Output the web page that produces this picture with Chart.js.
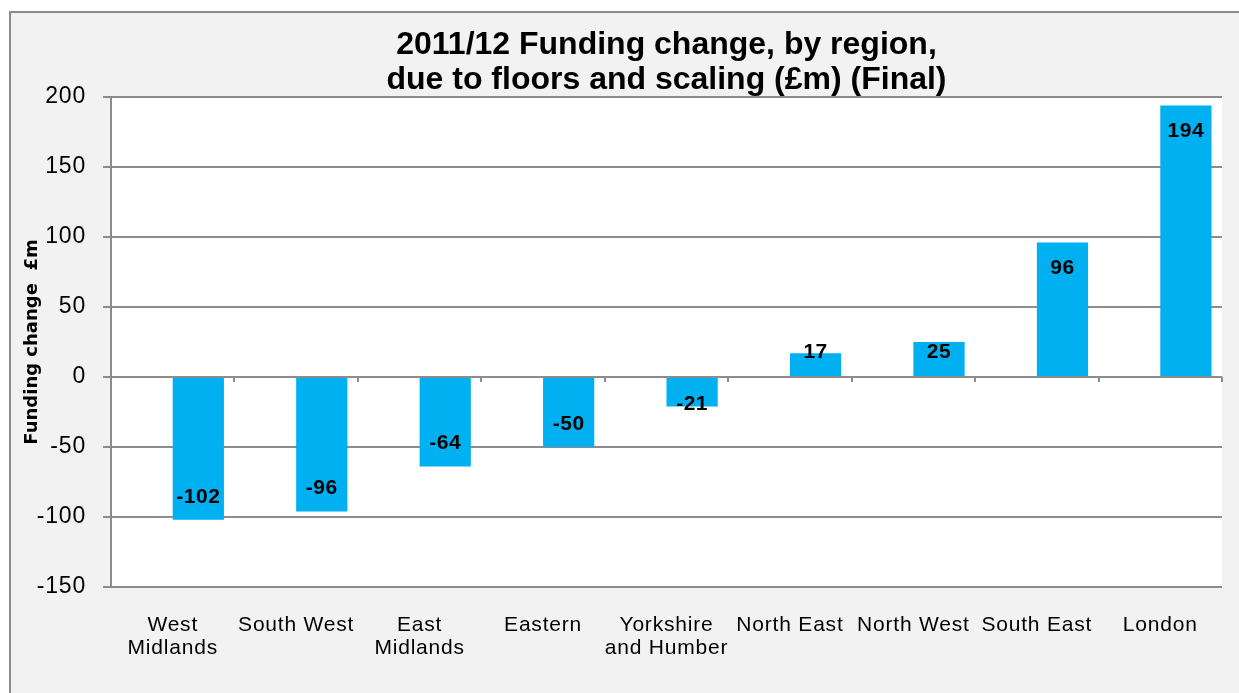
<!DOCTYPE html>
<html>
<head>
<meta charset="utf-8">
<script src="https://cdn.jsdelivr.net/npm/chart.js@4.4.1/dist/chart.umd.min.js"></script>
<style>
  html, body { margin: 0; padding: 0; background: #ffffff; overflow: hidden; }
  #frame {
    position: absolute; left: 9px; top: 11px; width: 1300px; height: 800px;
    background: #f2f2f2; border: 2px solid #8c8c8c;
  }
  #wrap { position: absolute; left: 0; top: 0; width: 1239px; height: 693px; }
</style>
</head>
<body>
<div id="frame"></div>
<div id="wrap"><canvas id="fundingChart"></canvas></div>
<script>
const regions = [['West', 'Midlands'], 'South West', ['East', 'Midlands'], 'Eastern',
    ['Yorkshire', 'and Humber'], 'North East', 'North West', 'South East', 'London'];
const fundingChange = [-102, -96, -64, -50, -21, 17, 25, 96, 194];
const titleLines = ['2011/12 Funding change, by region,', 'due to floors and scaling (£m) (Final)'];
const yTitle = 'Funding change  £m';
const yTicks = [-150, -100, -50, 0, 50, 100, 150, 200];

const FONT = "'Liberation Sans', Arial, sans-serif";
const GRID = '#8c8c8c';

// white plot area, titles drawn by hand
const plotBackground = {
    id: 'plotBackground',
    beforeDraw(chart) {
        const { ctx, chartArea: a } = chart;
        ctx.fillStyle = '#ffffff';
        ctx.fillRect(a.left, a.top, a.right - a.left, a.bottom - a.top);
        ctx.letterSpacing = '0.8px'; // Excel axis text runs a little wide
    },
    afterDraw(chart) {
        const { ctx, chartArea: a } = chart;
        ctx.save();
        ctx.fillStyle = '#000000';
        ctx.font = 'bold 32px ' + FONT;
        ctx.letterSpacing = '0px';
        ctx.textAlign = 'center';
        ctx.textBaseline = 'alphabetic';
        const cx = (a.left + a.right) / 2;
        ctx.fillText(titleLines[0], cx, 54);
        ctx.fillText(titleLines[1], cx, 89);

        ctx.font = "bold 18px 'DejaVu Sans', Verdana, sans-serif";
        ctx.translate(37, (a.top + a.bottom) / 2);
        ctx.rotate(-Math.PI / 2);
        ctx.fillText(yTitle, 0, 0);
        ctx.restore();
    }
};

// labels sit inside the bar end, pushed off the zero line for short bars
const barLabels = {
    id: 'barLabels',
    afterDatasetsDraw(chart) {
        const { ctx } = chart;
        const meta = chart.getDatasetMeta(1);
        ctx.save();
        ctx.fillStyle = '#000000';
        ctx.font = 'bold 21px ' + FONT;
        ctx.letterSpacing = '0.5px';
        ctx.textAlign = 'center';
        ctx.textBaseline = 'middle';
        meta.data.forEach((bar, i) => {
            const v = fundingChange[i];
            const len = Math.abs(bar.base - bar.y);
            const y = v >= 0 ? bar.base - Math.max(len - 26, 24)
                             : bar.base + Math.max(len - 23, 26);
            ctx.fillText(String(v), bar.x, y);
        });
        ctx.restore();
    }
};

new Chart(document.getElementById('fundingChart'), {
    type: 'bar',
    data: {
        labels: regions,
        datasets: [{
            label: 'spacer',
            data: [],
            backgroundColor: '#00b0f0'
        }, {
            label: 'Funding change',
            data: fundingChange,
            backgroundColor: '#00b0f0'
        }]
    },
    options: {
        responsive: true,
        maintainAspectRatio: false,
        animation: false,
        categoryPercentage: 0.83,
        barPercentage: 1.0,
        layout: { padding: { top: 97, right: 17, left: 0, bottom: 0 } },
        plugins: {
            legend: { display: false },
            title: { display: false },
            tooltip: { enabled: false }
        },
        scales: {
            x: {
                grid: { display: false, drawTicks: false },
                border: { display: false },
                ticks: {
                    color: '#000000',
                    font: { family: FONT, size: 21, lineHeight: 1.1 },
                    padding: 27,
                    maxRotation: 0,
                    autoSkip: false
                },
                afterFit(scale) { scale.height = 106; }
            },
            x2: {
                type: 'category',
                position: { y: 0 },
                grid: { offset: true, drawOnChartArea: false, tickLength: 5, color: GRID, lineWidth: 2 },
                border: { display: false },
                ticks: { display: false }
            },
            y: {
                min: -150,
                max: 200,
                afterBuildTicks(scale) { scale.ticks = yTicks.map(v => ({ value: v })); },
                grid: { color: GRID, lineWidth: 2, tickLength: 8 },
                border: { color: GRID, width: 2 },
                ticks: {
                    color: '#000000',
                    font: { family: FONT, size: 23 },
                    padding: 17
                },
                afterFit(scale) { scale.width = 111; }
            }
        }
    },
    plugins: [plotBackground, barLabels]
});
</script>
</body>
</html>
